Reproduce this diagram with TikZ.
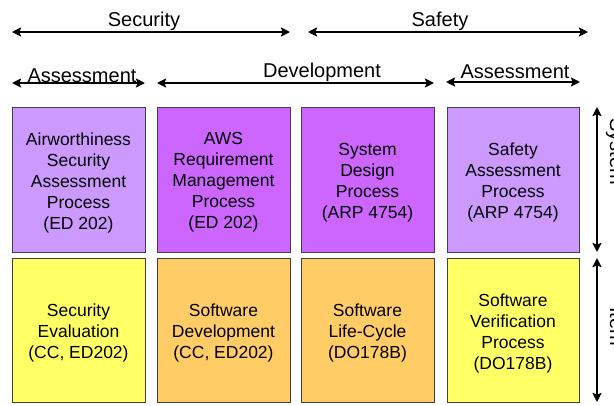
\documentclass[tikz,border=0pt]{standalone}
\usepackage{fontspec}
\setmainfont{Liberation Sans}
\usetikzlibrary{arrows.meta}

\definecolor{lilac}{HTML}{CC99FF}
\definecolor{violet}{HTML}{CC66FF}
\definecolor{lemon}{HTML}{FFFF66}
\definecolor{apricot}{HTML}{FFCC66}
\definecolor{rim}{HTML}{404040}

\tikzset{
  procbox/.style={draw=rim, line width=0.9pt, inner sep=0pt},
  proctext/.style={align=center, inner sep=0pt, font=\fontsize{17.5}{21}\selectfont},
  span/.style={{Stealth[length=9pt,width=9pt,inset=1.5pt]}-{Stealth[length=9pt,width=9pt,inset=1.5pt]}, line width=2.8pt},
  lowspan/.style={span, line width=2.4pt},
  heading/.style={font=\fontsize{20}{24}\selectfont, inner sep=0pt, anchor=base},
  sidelabel/.style={font=\fontsize{20}{24}\selectfont, inner sep=0pt, rotate=-90, anchor=base west}
}

\begin{document}
\begin{tikzpicture}[x=1pt, y=-1pt]
\useasboundingbox (0,0) rectangle (614,405);

% ---- top row: security / safety ----
\coordinate (secL) at (12,32);   \coordinate (secR) at (290,32);
\coordinate (safL) at (308,32);  \coordinate (safR) at (588,32);
\draw[span] (secL) -- (secR);
\draw[span] (safL) -- (safR);
\node[heading] (security) at (144,26) {Security};
\node[heading] (safety) at (440,26) {Safety};

% ---- second row: assessment / development / assessment ----
\coordinate (asL1) at (12,83);   \coordinate (asR1) at (145,83);
\coordinate (devL) at (157,83);  \coordinate (devR) at (434,83);
\coordinate (asL2) at (446,82);  \coordinate (asR2) at (580,82);
\draw[lowspan] (asL1) -- (asR1);
\draw[lowspan] (devL) -- (devR);
\draw[lowspan] (asL2) -- (asR2);
\node[heading] (assess1) at (82,82) {Assessment};
\node[heading] (develop) at (322,77) {Development};
\node[heading] (assess2) at (515,78) {Assessment};

% ---- system level processes ----
\node[procbox, fill=lilac,  minimum width=133pt, minimum height=145pt] (b1) at (78.5,179.5) {};
\node[procbox, fill=violet, minimum width=133pt, minimum height=145pt] (b2) at (223.5,179.5) {};
\node[procbox, fill=violet, minimum width=133pt, minimum height=145pt] (b3) at (367.5,179.5) {};
\node[procbox, fill=lilac,  minimum width=132pt, minimum height=145pt] (b4) at (513,179.5) {};
\node[proctext] (b1t) at ([yshift=-3pt]b1.center) {Airworthiness\\Security\\Assessment\\Process\\(ED 202)};
\node[proctext] (b2t) at ([yshift=-3pt]b2.center) {AWS\\Requirement\\Management\\Process\\(ED 202)};
\node[proctext] (b3t) at ([yshift=-3pt]b3.center) {System\\Design\\Process\\(ARP 4754)};
\node[proctext] (b4t) at ([yshift=-3pt]b4.center) {Safety\\Assessment\\Process\\(ARP 4754)};

% ---- item level processes ----
\node[procbox, fill=lemon,   minimum width=133pt, minimum height=144pt] (c1) at (78.5,330) {};
\node[procbox, fill=apricot, minimum width=133pt, minimum height=144pt] (c2) at (223.5,330) {};
\node[procbox, fill=apricot, minimum width=133pt, minimum height=144pt] (c3) at (367.5,330) {};
\node[procbox, fill=lemon,   minimum width=132pt, minimum height=144pt] (c4) at (513,330) {};
\node[proctext] (c1t) at ([yshift=-3pt]c1.center) {Security\\Evaluation\\(CC, ED202)};
\node[proctext] (c2t) at ([yshift=-3pt]c2.center) {Software\\Development\\(CC, ED202)};
\node[proctext] (c3t) at ([yshift=-3pt]c3.center) {Software\\Life-Cycle\\(DO178B)};
\node[proctext] (c4t) at ([yshift=-3pt]c4.center) {Software\\Verification\\Process\\(DO178B)};

% ---- right-hand level arrows ----
\coordinate (sysT) at (597,107); \coordinate (sysB) at (597,252);
\coordinate (itmT) at (597,258); \coordinate (itmB) at (597,402);
\draw[lowspan] (sysT) -- (sysB);
\draw[lowspan] (itmT) -- (itmB);
\node[sidelabel] (system) at (610,118) {System};
\node[sidelabel] (item) at (610,307) {Item};
\end{tikzpicture}
\end{document}
